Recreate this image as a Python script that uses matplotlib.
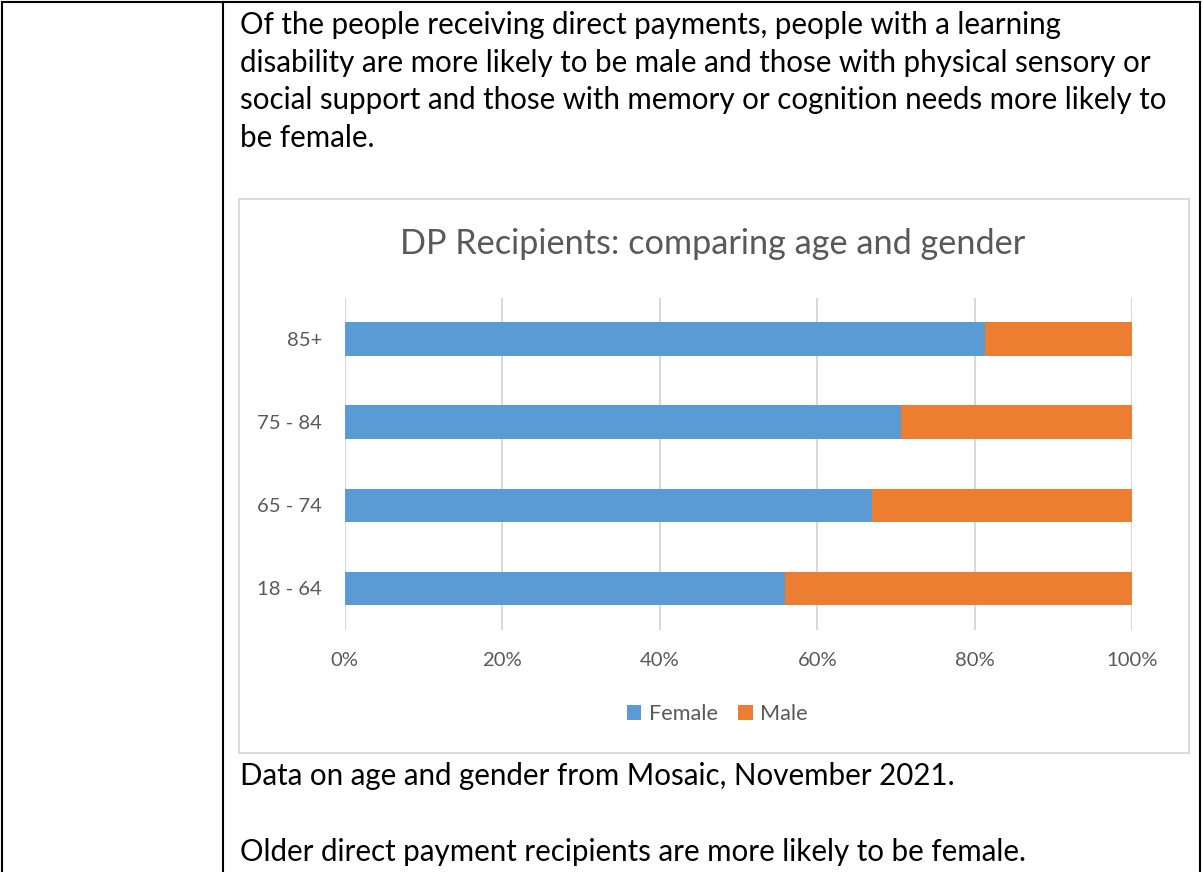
import matplotlib
matplotlib.use("Agg")
import matplotlib.pyplot as plt
from matplotlib.patches import Rectangle
from matplotlib.lines import Line2D
from matplotlib.ticker import FuncFormatter

# ---- data ----
categories = ["18 - 64", "65 - 74", "75 - 84", "85+"]
female = [0.559, 0.670, 0.706, 0.813]
male = [1 - f for f in female]
series_names = ["Female", "Male"]
x_ticks = [0.0, 0.2, 0.4, 0.6, 0.8, 1.0]
title = "DP Recipients: comparing age and gender"
para_top = [
    "Of the people receiving direct payments, people with a learning",
    "disability are more likely to be male and those with physical sensory or",
    "social support and those with memory or cognition needs more likely to",
    "be female.",
]
para_bottom = [
    "Data on age and gender from Mosaic, November 2021.",
    "Older direct payment recipients are more likely to be female.",
]

FEMALE_C = "#5B9BD5"
MALE_C = "#ED7D31"
GRID_C = "#D9D9D9"
LABEL_C = "#595959"

plt.rcParams['font.family'] = ['Lato', 'DejaVu Sans']

W, H = 1203, 872
DPI = 100
fig = plt.figure(figsize=(W / DPI, H / DPI), dpi=DPI)
fig.patch.set_facecolor("white")


def fx(px):
    return px / W


def fy(py):
    return 1 - py / H


renderer = fig.canvas.get_renderer()


def size_for(s, target_w, size0=16):
    t = fig.text(0, 0, s, fontsize=size0)
    w = t.get_window_extent(renderer=renderer).width
    t.remove()
    return size0 * target_w / w


# ---- table borders ----
lw_tab = 1.5
fig.add_artist(Line2D([fx(2), fx(2)], [fy(2), fy(872)], color="black", lw=lw_tab))
fig.add_artist(Line2D([fx(223), fx(223)], [fy(2), fy(872)], color="black", lw=lw_tab))
fig.add_artist(Line2D([fx(1200), fx(1200)], [fy(2), fy(872)], color="black", lw=lw_tab))
fig.add_artist(Line2D([fx(2), fx(1200)], [fy(2), fy(2)], color="black", lw=lw_tab))

# ---- paragraph text ----
body_size = size_for(para_top[0], 825)
for i, line in enumerate(para_top):
    fig.text(fx(240), fy(34 + 37.7 * i), line, fontsize=body_size,
             va="baseline", ha="left", color="black")
fig.text(fx(240), fy(785), para_bottom[0], fontsize=body_size,
         va="baseline", ha="left", color="black")
fig.text(fx(240), fy(861), para_bottom[1], fontsize=body_size,
         va="baseline", ha="left", color="black")

# ---- chart frame ----
fig.add_artist(Rectangle((fx(238.5), fy(752.5)), fx(1188.5) - fx(238.5),
                         fy(199) - fy(752.5), transform=fig.transFigure,
                         fill=False, edgecolor=GRID_C, lw=1.3))

# ---- title ----
title_size = size_for(title, 629)
fig.text(fx(713), fy(254), title, fontsize=title_size,
         va="baseline", ha="center", color=LABEL_C)

# ---- axes ----
left, right = 344.8, 1132.3
top, bottom = 297.5, 629.7
ax = fig.add_axes([fx(left), fy(bottom), fx(right) - fx(left), fy(top) - fy(bottom)])
ax.set_facecolor("none")

b1 = ax.barh(categories, female, height=0.4, color=FEMALE_C, label=series_names[0], zorder=3)
b2 = ax.barh(categories, male, left=female, height=0.4, color=MALE_C, label=series_names[1], zorder=3)

ax.set_xlim(0, 1)
ax.set_ylim(-0.5, len(categories) - 0.5)
ax.set_xticks(x_ticks)
ax.xaxis.set_major_formatter(FuncFormatter(lambda v, p: f"{v*100:.0f}%"))
ax.grid(axis="x", color=GRID_C, lw=1.5, zorder=0)
ax.grid(axis="y", visible=False)
for sp in ax.spines.values():
    sp.set_visible(False)

tick_size = size_for("100%", 51.6)
ax.tick_params(axis="both", length=0, colors=LABEL_C, labelsize=tick_size)
ax.tick_params(axis="x", pad=16)
ax.tick_params(axis="y", pad=16.5)

# ---- legend ----
leg_size = size_for("Female", 69)
leg = fig.legend(handles=[b1, b2], labels=series_names, loc="center",
                 bbox_to_anchor=(fx(717.5), fy(714)), ncol=2, frameon=False,
                 fontsize=leg_size, handlelength=0.65, handleheight=0.65,
                 handletextpad=0.35, columnspacing=0.95, labelcolor=LABEL_C)

fig.savefig("out.png", dpi=DPI, facecolor="white")
